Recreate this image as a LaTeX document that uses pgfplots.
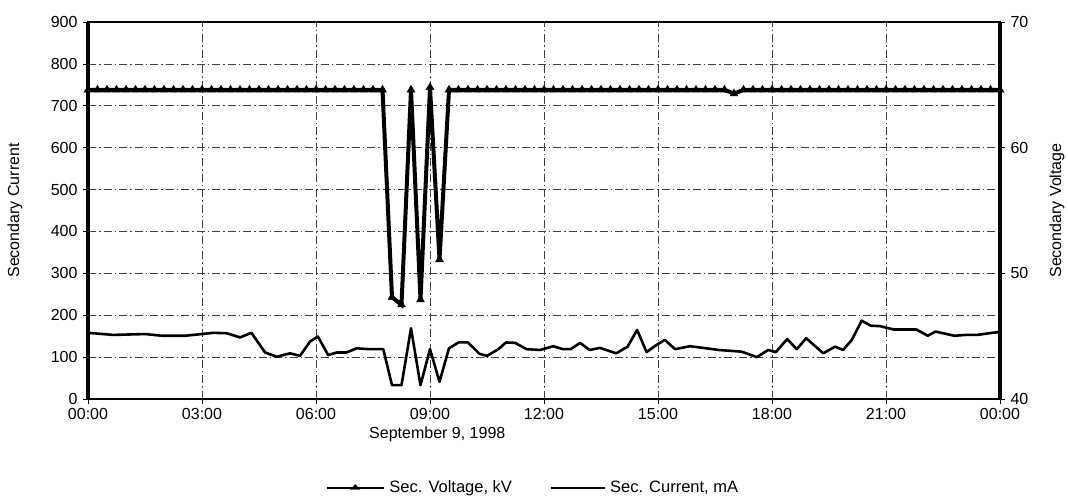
\documentclass[border=0pt]{standalone}
\usepackage{pgfplots}
\pgfplotsset{compat=1.18}
\usepackage{fontspec}
\setmainfont{Liberation Sans}
\begin{document}
\fontsize{16bp}{19bp}\selectfont
\begin{tikzpicture}
\useasboundingbox (0,0) rectangle (1068bp,502bp);
\pgfplotsset{every axis/.append style={
  scale only axis, width=912bp, height=377bp,
  at={(88bp,103bp)}, anchor=south west,
  xmin=0, xmax=24,
  tick style={black, line width=0.7bp},
  tick align=outside, major tick length=5bp,
  /pgf/number format/assume math mode=true,
  font=\fontsize{16bp}{19bp}\selectfont,
}}
\begin{axis}[
  ymin=0, ymax=900,
  ytick={0,100,...,900},
  xtick={0,3,...,24},
  xticklabels={00:00,03:00,06:00,09:00,12:00,15:00,18:00,21:00,00:00},
  xticklabel style={yshift=1bp},
  xtick pos=bottom, ytick pos=left,
  grid=major,
  grid style={black!75, line width=0.6bp, dash pattern=on 8bp off 3bp on 1.5bp off 3bp},
  axis line style={line width=2.5bp},
  ylabel={Secondary Current},
  ylabel style={at={(rel axis cs:-0.08,0.5)}, anchor=center},
]
\addplot[black, line width=2.6bp, line join=round] coordinates {
(0,158) (0.66,153) (1.5,155) (1.95,151) (2.56,151) (3.3,158) (3.65,157) (4.0,147) (4.3,158)
(4.66,111) (4.97,101) (5.32,109) (5.58,103) (5.84,137) (6.05,149) (6.32,105) (6.55,111) (6.8,111)
(7.07,121) (7.4,119) (7.77,119) (8.0,33) (8.25,33) (8.5,169) (8.75,33) (9.0,119) (9.25,41)
(9.5,121) (9.75,135) (10.0,135) (10.3,108) (10.5,103) (10.8,119) (11.0,135) (11.24,134) (11.54,119)
(11.9,117) (12.24,126) (12.5,119) (12.7,119) (12.95,134) (13.2,117) (13.47,122) (13.9,109) (14.2,125)
(14.45,165) (14.7,112) (14.96,129) (15.18,141) (15.45,119) (15.84,126) (16.1,123) (16.6,117) (17.2,113)
(17.6,100) (17.9,117) (18.1,112) (18.4,143) (18.65,119) (18.9,145) (19.35,109) (19.66,125) (19.87,117)
(20.1,141) (20.36,187) (20.6,175) (20.84,174) (21.2,166) (21.8,166) (22.1,151) (22.3,161) (22.8,151)
(23.1,153) (23.4,153) (23.8,158) (24.0,160)
};
\end{axis}
\begin{axis}[
  clip=false,
  ymin=40, ymax=70, ytick={40,50,60,70},
  axis y line*=right, axis x line=none,
  axis line style={line width=2.5bp},
  ylabel={Secondary Voltage},
  ylabel style={at={(rel axis cs:1.0625,0.5)}, anchor=center},
  legend style={at={(0.488,-0.236)}, anchor=center, draw=none, fill=none,
    legend columns=2, font=\fontsize{16.5bp}{19bp}\selectfont,
    /tikz/every odd column/.append style={column sep=3bp},
    /tikz/every even column/.append style={column sep=36bp}},
  legend cell align=left,
]
\addplot[black, line width=4bp, mark=triangle*, mark size=4.5bp,
  mark options={line width=0.5bp}, line join=miter, forget plot] coordinates {
(0,64.6) (0.25,64.6) (0.5,64.6) (0.75,64.6) (1,64.6) (1.25,64.6) (1.5,64.6) (1.75,64.6)
(2,64.6) (2.25,64.6) (2.5,64.6) (2.75,64.6) (3,64.6) (3.25,64.6) (3.5,64.6) (3.75,64.6)
(4,64.6) (4.25,64.6) (4.5,64.6) (4.75,64.6) (5,64.6) (5.25,64.6) (5.5,64.6) (5.75,64.6)
(6,64.6) (6.25,64.6) (6.5,64.6) (6.75,64.6) (7,64.6) (7.25,64.6) (7.5,64.6) (7.75,64.6)
(8,48.1) (8.25,47.5) (8.5,64.6) (8.75,47.9) (9,64.8) (9.25,51.1) (9.5,64.6) (9.75,64.6)
(10,64.6) (10.25,64.6) (10.5,64.6) (10.75,64.6) (11,64.6) (11.25,64.6) (11.5,64.6) (11.75,64.6)
(12,64.6) (12.25,64.6) (12.5,64.6) (12.75,64.6) (13,64.6) (13.25,64.6) (13.5,64.6) (13.75,64.6)
(14,64.6) (14.25,64.6) (14.5,64.6) (14.75,64.6) (15,64.6) (15.25,64.6) (15.5,64.6) (15.75,64.6)
(16,64.6) (16.25,64.6) (16.5,64.6) (16.75,64.6) (17,64.3) (17.25,64.6) (17.5,64.6) (17.75,64.6)
(18,64.6) (18.25,64.6) (18.5,64.6) (18.75,64.6) (19,64.6) (19.25,64.6) (19.5,64.6) (19.75,64.6)
(20,64.6) (20.25,64.6) (20.5,64.6) (20.75,64.6) (21,64.6) (21.25,64.6) (21.5,64.6) (21.75,64.6)
(22,64.6) (22.25,64.6) (22.5,64.6) (22.75,64.6) (23,64.6) (23.25,64.6) (23.5,64.6) (23.75,64.6)
(24,64.6)
};
\addlegendimage{legend image code/.code={
  \draw[black, line width=1.4bp] (0bp,0bp) -- (57bp,0bp);
  \fill[black] (28.5bp,3.5bp) -- (24bp,-1.5bp) -- (33bp,-1.5bp) -- cycle;}}
\addlegendentry{Sec. Voltage, kV}
\addlegendimage{legend image code/.code={
  \draw[black, line width=1.1bp] (0bp,0bp) -- (54bp,0bp);}}
\addlegendentry{Sec. Current, mA}
\draw[line width=4.5bp] (rel axis cs:0,0) -- (rel axis cs:0,1);
\draw[line width=4.5bp] (rel axis cs:1,0) -- (rel axis cs:1,1);
\node[font=\fontsize{16bp}{19bp}\selectfont] at (axis description cs:0.383,-0.095) {September 9, 1998};
\end{axis}
\end{tikzpicture}
\end{document}
